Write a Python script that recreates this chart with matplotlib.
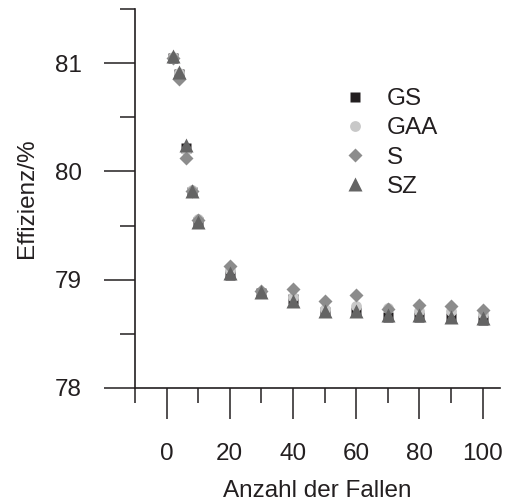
import matplotlib
matplotlib.use("Agg")
import matplotlib.pyplot as plt

plt.rcParams['font.family'] = ['Liberation Sans', 'DejaVu Sans']

# Anzahl der Fallen
fallen = [2, 4, 6, 8, 10, 20, 30, 40, 50, 60, 70, 80, 90, 100]

# Effizienz in % je Verfahren
eff_gs = [81.05, 80.90, 80.22, 79.81, 79.53, 79.04, 78.88, 78.82, 78.70, 78.70,
          78.66, 78.66, 78.65, 78.63]
eff_gaa = [81.06, 80.91, 80.20, 79.83, 79.56, 79.09, 78.89, 78.84, 78.73, 78.76,
           78.74, 78.71, 78.71, 78.68]
eff_s = [81.05, 80.85, 80.12, 79.82, 79.55, 79.13, 78.90, 78.91, 78.80, 78.86,
         78.73, 78.77, 78.76, 78.72]
eff_sz = [81.07, 80.92, 80.24, 79.82, 79.53, 79.06, 78.89, 78.80, 78.71, 78.71,
          78.67, 78.67, 78.66, 78.65]

serien = ["GS", "GAA", "S", "SZ"]

txt = '#231f20'
fs = 17.5

fig = plt.figure(figsize=(5.09, 5.04), dpi=100)
ax = fig.add_axes([135/509, (504-388)/504, (500-135)/509, (388-9)/504])

ax.plot(fallen, eff_gs, 's', color='#231f20', ms=7.0, mec='none', label=serien[0])
ax.plot(fallen, eff_gaa, 'o', color='#c8c8c8', ms=7.8, mec='none', label=serien[1])
ax.plot(fallen, eff_s, 'D', color='#8c8c8c', ms=7.4, mec='none', label=serien[2])
ax.plot(fallen, eff_sz, '^', color='#646464', ms=10.5, mec='none', label=serien[3])

ax.set_xlim(-10, 105.5)
ax.set_ylim(78, 81.5)

for s in ['top', 'right']:
    ax.spines[s].set_visible(False)
for s in ['left', 'bottom']:
    ax.spines[s].set_linewidth(1.2)
    ax.spines[s].set_color(txt)

ax.set_xticks([0, 20, 40, 60, 80, 100])
ax.set_xticks([-10, 10, 30, 50, 70, 90], minor=True)
ax.set_yticks([78, 79, 80, 81])
ax.set_yticks([78.5, 79.5, 80.5, 81.5], minor=True)

ax.tick_params(axis='both', which='major', length=22.5, width=1.1, color=txt,
               labelsize=fs, labelcolor=txt, direction='out')
ax.tick_params(axis='both', which='minor', length=11, width=1.1, color=txt,
               direction='out')
ax.tick_params(axis='x', which='major', pad=17)
ax.tick_params(axis='y', which='major', pad=16)

ax.set_xlabel("Anzahl der Fallen", fontsize=fs, color=txt, labelpad=11)
ax.set_ylabel("Effizienz/%", fontsize=fs, color=txt, labelpad=12)

leg = ax.legend(loc='upper left', bbox_to_anchor=(343/509, 1 - 88/504),
                bbox_transform=fig.transFigure, frameon=False, fontsize=fs,
                numpoints=1, handlelength=1.0, handletextpad=0.81,
                labelspacing=0.3, borderpad=0, borderaxespad=0)
for t in leg.get_texts():
    t.set_color(txt)

fig.savefig("out.png", dpi=100)
